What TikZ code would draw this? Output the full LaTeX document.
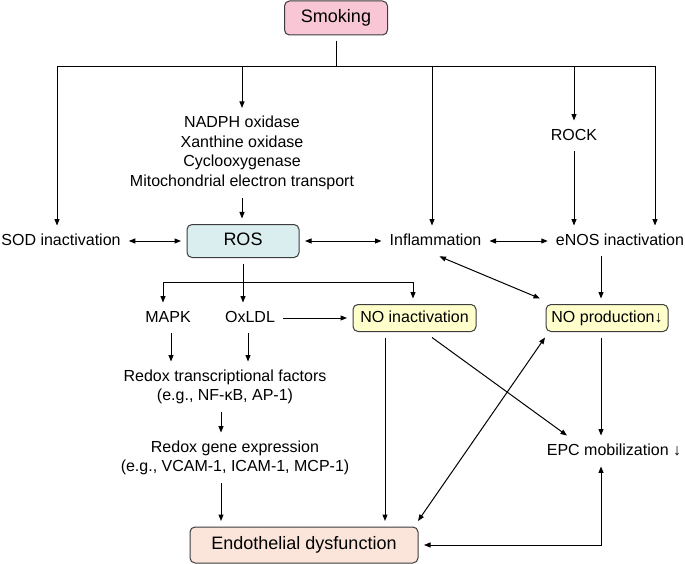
\documentclass[tikz,border=0pt]{standalone}
\usepackage{fontspec}
\setmainfont{Liberation Sans}
\usetikzlibrary{arrows.meta, positioning, calc}
\definecolor{smokeFill}{RGB}{248, 198, 212}
\definecolor{rosFill}{RGB}{218, 237, 239}
\definecolor{noFill}{RGB}{255, 255, 204}
\definecolor{endoFill}{RGB}{251, 229, 219}
\definecolor{boxLine}{RGB}{60, 60, 60}
\tikzset{
  Base/.style    = {font=\fontsize{16}{19.6}\selectfont},
  Plain/.style   = {Base, inner xsep=8pt, inner ysep=7.5pt, text height=12pt, text depth=3.5pt},
  Multi/.style   = {Base, align=center, inner xsep=8pt, inner ysep=8pt},
  Box/.style     = {Base, draw=boxLine, line width=1pt, rounded corners=5pt,
                    inner sep=4pt, outer sep=6pt, text height=12pt, text depth=3.5pt},
  BigBox/.style  = {Box, font=\fontsize{18}{21}\selectfont},
  Wire/.style    = {line width=1pt, color=black},
  Flow/.style    = {Wire, -{Triangle[length=6.5pt, width=5pt]}},
  Both/.style    = {Wire, {Triangle[length=6.5pt, width=5pt]}-{Triangle[length=6.5pt, width=5pt]}},
}

\begin{document}
\begin{tikzpicture}[x=1pt, y=-1pt]
  \path[use as bounding box] (0,0) rectangle (685,564);
  % top part
  \node[BigBox, fill=smokeFill, minimum width=103pt, minimum height=34pt] (smoke) at (336,18) {Smoking};
  \coordinate (bus) at (336,67);
  \node[Multi] (enz) at (242,153) {NADPH oxidase\\Xanthine oxidase\\Cyclooxygenase\\Mitochondrial electron transport};
  \node[Plain] (rock) at (574,136) {ROCK};
  % middle row
  \node[Plain] (sod) at (61,241) {SOD inactivation};
  \node[BigBox, fill=rosFill, minimum width=112pt, minimum height=33pt] (ros) at (243,241) {ROS};
  \node[Plain] (infl) at (435.5,241) {Inflammation};
  \node[Plain] (enos) at (620,241) {eNOS inactivation};
  % second row
  \node[Plain] (mapk) at (168,318) {MAPK};
  \node[Plain] (oxldl) at (250,318) {OxLDL};
  \node[Box, fill=noFill, minimum width=123pt, minimum height=27pt] (noin) at (414.5,318) {NO inactivation};
  \node[Box, fill=noFill, minimum width=122pt, minimum height=27pt] (noprod) at (607,318) {NO production↓};
  % lower part
  \node[Multi] (rtf) at (225,387) {Redox transcriptional factors\\(e.g., NF-κB, AP-1)};
  \node[Multi] (rge) at (235,458) {Redox gene expression\\(e.g., VCAM-1, ICAM-1, MCP-1)};
  \node[Plain] (epc) at (614,451) {EPC mobilization ↓};
  \node[BigBox, fill=endoFill, minimum width=228pt, minimum height=36pt] (endo) at (304,545) {Endothelial dysfunction};

  % from smoking
  \draw[Wire] (smoke) -- (bus);
  \draw[Flow] (bus) -| ([xshift=-4pt]sod.north);
  \draw[Flow] (bus) -| (enz.north);
  \draw[Flow] (bus) -| ([xshift=-3.5pt]infl.north);
  \draw[Flow] (bus) -| (rock.north);
  \draw[Flow] (bus) -| ([xshift=35pt]enos.north);
  \draw[Flow] (rock.south) -- (rock.south |- enos.north);
  \draw[Flow] (enz.south) -- (enz.south |- ros.north);

  \draw[Both] (sod) -- (ros);
  \draw[Both] (ros) -- (infl);
  \draw[Both] (infl) -- (enos);

  % ROS branches
  \coordinate (br) at (243,282);
  \draw[Flow] (ros.south) -- (ros.south |- oxldl.north);
  \draw[Flow] (br) -| ([xshift=-5pt]mapk.north);
  \draw[Flow] (br) -| ([xshift=-1.5pt]noin.north);
  \draw[Flow] (oxldl) -- (noin);
  \draw[Flow] ([xshift=3pt]mapk.south) -- ([xshift=3pt]mapk.south |- rtf.north);
  \draw[Flow] ([xshift=-2pt]oxldl.south) -- ([xshift=-2pt]oxldl.south |- rtf.north);
  \draw[Flow] ([xshift=-4pt]rtf.south) -- ([xshift=-4pt]rtf.south |- rge.north);
  \draw[Flow] ([xshift=-14pt]rge.south) -- ([xshift=-14pt]rge.south |- endo.north);

  % right side
  \draw[Flow] ([xshift=-29.5pt]noin.south) -- ([xshift=-29.5pt]noin.south |- endo.north);
  \draw[Flow] ([xshift=17.5pt]noin.south) -- ([xshift=-47pt]epc.north);
  \draw[Both] ([xshift=4pt]infl.south) -- (noprod.north west);
  \draw[Both] ([xshift=-6pt]endo.north east) -- ([xshift=5pt]noprod.south west);
  \draw[Flow] ([xshift=-6pt]noprod.north |- enos.south) -- ([xshift=-6pt]noprod.north);
  \draw[Flow] ([xshift=-6pt]noprod.south) -- ([xshift=-6pt]noprod.south |- epc.north);
  \draw[Both] ([xshift=-13pt]epc.south) |- (endo.east);
\end{tikzpicture}
\end{document}
